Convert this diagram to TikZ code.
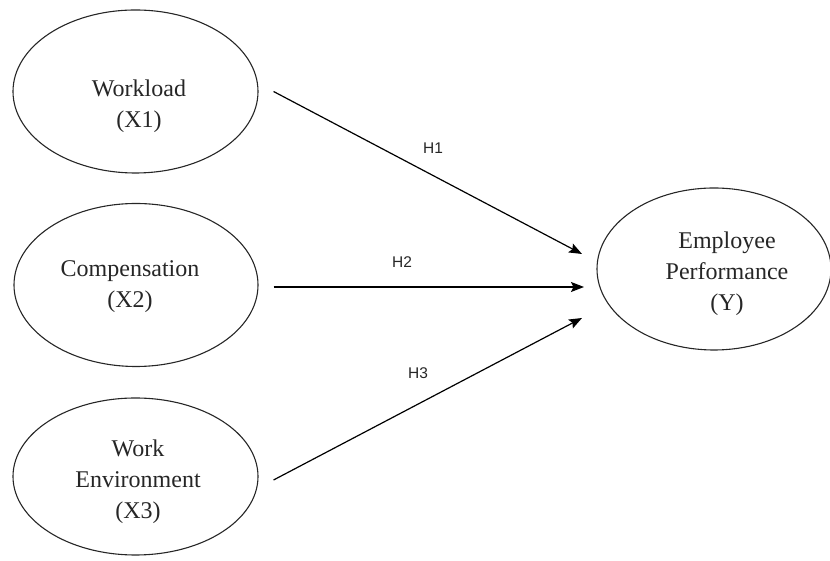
\documentclass[tikz,border=0pt]{standalone}
\usepackage{fontspec}
\setmainfont{Liberation Serif}
\newfontfamily\hsans{Liberation Sans}
\usetikzlibrary{shapes.geometric,arrows.meta}
\tikzset{
  var/.style={draw=black!85, line width=1.1pt, ellipse, inner sep=0pt},
  vlab/.style={align=center, font=\fontsize{24}{31}\selectfont, text=black!85, inner sep=0pt},
  hlab/.style={font=\hsans\fontsize{15.5}{17}\selectfont, text=black!85, inner sep=0pt},
  path/.style={line width=1.2pt, -{Stealth[length=13pt,width=10pt,inset=2.5pt]}},
}
\begin{document}
\begin{tikzpicture}[x=1pt,y=1pt]
\useasboundingbox (0,0) rectangle (830,561);
\node[var, minimum width=245pt, minimum height=163pt] (x1) at (135.5,469.5) {};
\node[var, minimum width=244pt, minimum height=163pt] (x2) at (136,276) {};
\node[var, minimum width=245pt, minimum height=157pt] (x3) at (135.5,84.5) {};
\node[var, minimum width=234pt, minimum height=162pt] (y) at (714,292) {};
\node[vlab] (x1t) at (139,455) {Workload\\(X1)};
\node[vlab] (x2t) at (130,274) {Compensation\\(X2)};
\node[vlab] (x3t) at (138,79) {Work\\Environment\\(X3)};
\node[vlab] (yt) at (727,287) {Employee\\Performance\\(Y)};
\coordinate (e1) at (582,307);
\coordinate (e2) at (584,274);
\coordinate (e3) at (582,243);
\draw[path] ([xshift=15pt]x1.east) -- (e1);
\draw[path] ([shift={(15pt,-2pt)}]x2.east) -- (e2);
\draw[path] ([shift={(15pt,-3.5pt)}]x3.east) -- (e3);
\node[hlab] (h1) at (433,413) {H1};
\node[hlab] (h2) at (402,299) {H2};
\node[hlab] (h3) at (418,188) {H3};
\end{tikzpicture}
\end{document}
